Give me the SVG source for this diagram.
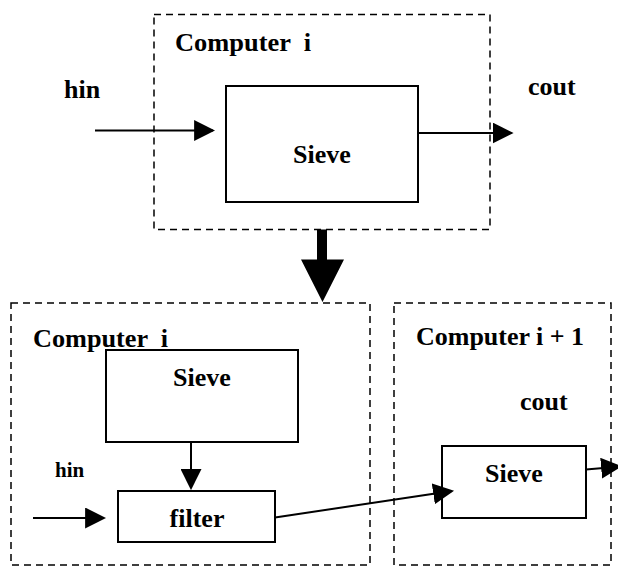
<svg xmlns="http://www.w3.org/2000/svg" width="618" height="566" viewBox="0 0 618 566">
  <style>
    .frame { fill: none; stroke: #000; stroke-width: 1.5; stroke-dasharray: 7 5; }
    .box { fill: #fff; stroke: #000; stroke-width: 2; }
    .wire { fill: none; stroke: #000; stroke-width: 2; marker-end: url(#head); }
    .lbl { font-family: "Liberation Serif", "Times New Roman", serif; font-weight: bold; font-size: 26px; fill: #000; white-space: pre; }
    .small { font-size: 21px; }
  </style>
  <defs>
    <marker id="head" markerUnits="userSpaceOnUse" markerWidth="21" markerHeight="21" viewBox="0 0 20 20" refX="18" refY="10" orient="auto">
      <path d="M0,0 L20,10 L0,20 Z" fill="#000"/>
    </marker>
  </defs>
  <rect width="618" height="566" fill="#fff"/>

  <!-- upper view: one computer running the sieve -->
  <g id="computer-top">
    <rect class="frame" x="154" y="14.5" width="336" height="215"/>
    <text class="lbl" x="175" y="51" xml:space="preserve" textLength="136" lengthAdjust="spacingAndGlyphs">Computer  i</text>
  </g>
  <g id="sieve-top">
    <rect class="box" x="226" y="86" width="192" height="116"/>
    <text class="lbl" x="322" y="163" text-anchor="middle">Sieve</text>
  </g>
  <g id="hin-top"><text class="lbl" x="64" y="98">hin</text></g>
  <g id="cout-top"><text class="lbl" x="528" y="95">cout</text></g>

  <!-- lower view: computer i with filter, passing on to computer i + 1 -->
  <g id="computer-i">
    <rect class="frame" x="11" y="303" width="359" height="262"/>
    <text class="lbl" x="33" y="346.5" xml:space="preserve" textLength="135" lengthAdjust="spacingAndGlyphs">Computer  i</text>
  </g>
  <g id="sieve-i">
    <rect class="box" x="106" y="350" width="192" height="92"/>
    <text class="lbl" x="202" y="385.5" text-anchor="middle">Sieve</text>
  </g>
  <g id="filter">
    <rect class="box" x="118" y="491" width="157" height="51"/>
    <text class="lbl" x="197" y="527" text-anchor="middle">filter</text>
  </g>
  <g id="hin-bottom"><text class="lbl small" x="55" y="476.5">hin</text></g>

  <g id="computer-i1">
    <rect class="frame" x="394" y="303" width="217" height="262"/>
    <text class="lbl" x="416" y="345" textLength="168" lengthAdjust="spacingAndGlyphs">Computer i + 1</text>
  </g>
  <g id="sieve-i1">
    <rect class="box" x="442" y="446" width="144" height="72"/>
    <text class="lbl" x="514" y="482" text-anchor="middle">Sieve</text>
  </g>
  <g id="cout-bottom"><text class="lbl" x="520" y="410">cout</text></g>

  <!-- connectors -->
  <g id="connectors">
    <line class="wire" x1="95" y1="130.5" x2="213" y2="130.5"/>
    <line class="wire" x1="418" y1="133" x2="511.5" y2="133"/>
    <polygon points="317,229.5 327,229.5 327,259.5 344,259.5 322.5,302 301,259.5 317,259.5" fill="#000"/>
    <line class="wire" x1="191" y1="442" x2="191" y2="488"/>
    <line class="wire" x1="33" y1="518" x2="104" y2="518"/>
    <line class="wire" x1="275" y1="517.5" x2="452" y2="491"/>
    <line class="wire" x1="586" y1="469.5" x2="620" y2="466.5"/>
  </g>
</svg>
